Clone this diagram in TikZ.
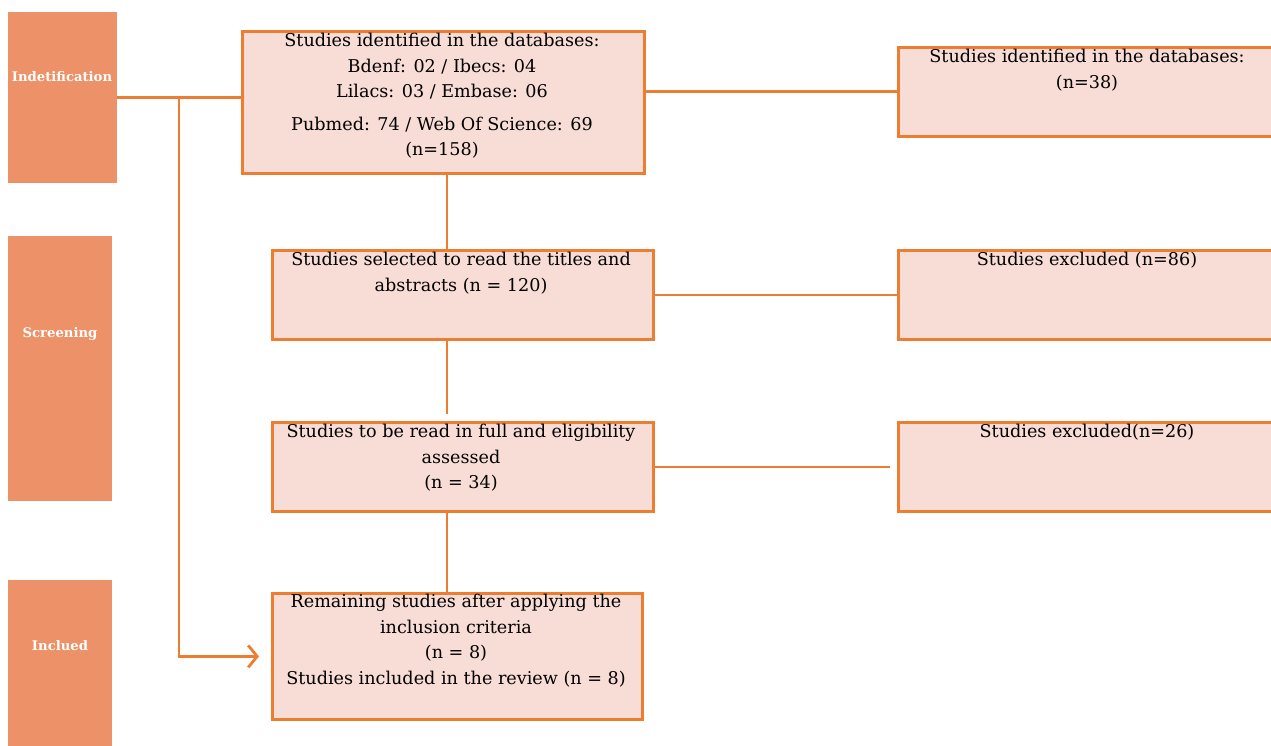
\documentclass[tikz,border=0pt]{standalone}
\usepackage{fontspec}
\setmainfont{DejaVu Serif}
\usetikzlibrary{arrows.meta}
\definecolor{stagefill}{RGB}{237,146,104}
\definecolor{edgeorange}{RGB}{237,125,49}
\definecolor{boxfill}{RGB}{248,220,214}

\begin{document}
\begin{tikzpicture}[x=1pt,y=-1pt]
\tikzstyle{stage}=[fill=stagefill, inner sep=0pt, anchor=north west]
\tikzstyle{stagelabel}=[text=white, inner sep=0pt, font=\fontsize{13.2}{15}\selectfont\bfseries]
\tikzstyle{boite}=[draw=edgeorange, line width=2.8pt, fill=boxfill, inner sep=0pt, anchor=north west]
\tikzstyle{texte}=[anchor=north, align=center, inner sep=0pt, font=\fontsize{17.6}{25.5}\selectfont]
\tikzstyle{lien}=[draw=edgeorange, line width=2.8pt]
\useasboundingbox (0,0) rectangle (1271,746);
% stages on the left
\node[stage, minimum width=109pt, minimum height=171pt] (ident) at (8,12) {};
\node[stagelabel] (identlab) at (62,77) {Indetification};
\node[stage, minimum width=104pt, minimum height=265pt] (screen) at (8,236) {};
\node[stagelabel] (screenlab) at (60,334) {Screening};
\node[stage, minimum width=104pt, minimum height=170pt] (incl) at (8,580) {};
\node[stagelabel] (incllab) at (60,646) {Inclued};
% main boxes
\node[boite, minimum width=402pt, minimum height=142pt] (b1) at (241,30) {};
\node[texte] (t1) at (442,33) {Studies identified in the databases:\\
Bdenf: 02 / Ibecs: 04\\ Lilacs: 03 / Embase: 06\\[7pt]
Pubmed: 74 / Web Of Science: 69\\ (n=158)};
\node[boite, minimum width=381pt, minimum height=89pt] (b2) at (271,249) {};
\node[texte] (t2) at (461,252) {Studies selected to read the titles and\\ abstracts (n = 120)};
\node[boite, minimum width=381pt, minimum height=89pt] (b3) at (271,421) {};
\node[texte] (t3) at (461,424) {Studies to be read in full and eligibility\\ assessed\\ (n = 34)};
\node[boite, minimum width=370pt, minimum height=126pt] (b4) at (271,592) {};
\node[texte] (t4) at (456,594) {Remaining studies after applying the\\ inclusion criteria\\ (n = 8)\\
Studies included in the review (n = 8)};
% boxes on the right
\node[boite, minimum width=380pt, minimum height=89pt] (r1) at (897,46) {};
\node[texte] (s1) at (1087,49) {Studies identified in the databases:\\ (n=38)};
\node[boite, minimum width=380pt, minimum height=89pt] (r2) at (897,249) {};
\node[texte] (s2) at (1087,252) {Studies excluded (n=86)};
\node[boite, minimum width=380pt, minimum height=89pt] (r3) at (897,421) {};
\node[texte] (s3) at (1087,424) {Studies excluded(n=26)};
% connectors
\coordinate (jonc) at (179,0);
\coordinate (axe) at (447,0);
\draw[lien] (ident.east) -- (b1.west |- ident.east);
\draw[lien, -{Straight Barb[length=9pt,width=22pt]}] (ident.east -| jonc) -- (jonc |- b4.west) -- ([xshift=-12pt]b4.west);
\draw[lien] (b1.east |- r1.west) -- (r1.west);
\draw[lien] (axe |- b1.south) -- (axe |- b2.north);
\draw[lien] (b2.east) -- (r2.west);
\draw[lien] (axe |- b2.south) -- ([yshift=7pt]axe |- b3.north);
\draw[lien] (b3.east) -- ([xshift=-7pt]r3.west);
\draw[lien] (axe |- b3.south) -- (axe |- b4.north);
\end{tikzpicture}
\end{document}
